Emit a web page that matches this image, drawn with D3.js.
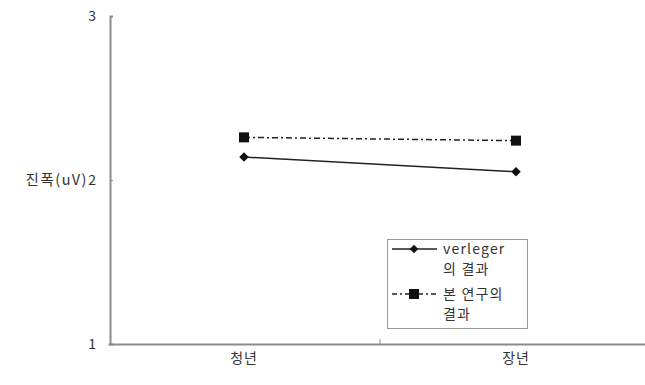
<!DOCTYPE html>
<html><head><meta charset="utf-8">
<script src="https://cdn.jsdelivr.net/npm/d3@7"></script>
<style>body{margin:0;background:#fff}svg{display:block}</style>
</head><body><svg id="c" width="645" height="385"></svg>
<script>
const categories = ["청년", "장년"];
const seriesNames = ["verleger\n의 결과", "본 연구의\n결과"];
const verleger = [2.14, 2.05];
const ours = [2.26, 2.24];
const yTicks = [1, 2, 3];
const yLabel = "진폭(uV)";

const svg = d3.select("#c");
const font = "'Noto Sans CJK KR','Noto Sans',sans-serif";
const x = d3.scaleBand().domain(categories).range([108, 652]);
const y = d3.scaleLinear().domain([1, 3]).range([344, 16]);
const axisColor = "#8a8a8a";

// y axis
const ya = svg.append("g").attr("transform", "translate(110,0)")
  .call(d3.axisLeft(y).tickValues(yTicks).tickSize(-3).tickPadding(14).tickFormat(d3.format("d")));
ya.select(".domain").attr("stroke", axisColor).attr("stroke-width", 2);
ya.selectAll(".tick line").attr("stroke", axisColor);
ya.selectAll("text").attr("font-family", font).attr("font-size", 14).attr("fill", "#333");
svg.append("text").attr("x", 88).attr("y", y(2)).attr("dy", "0.35em")
  .attr("text-anchor", "end").attr("font-family", font).attr("font-size", 14.5)
  .attr("letter-spacing", 1.5).attr("fill", "#333").text(yLabel);

// x axis
const xa = svg.append("g").attr("transform", "translate(0,344)")
  .call(d3.axisBottom(x).tickSize(0).tickPadding(9));
xa.select(".domain").attr("stroke", axisColor).attr("stroke-width", 2);
xa.selectAll("text").attr("font-family", font).attr("font-size", 14).attr("letter-spacing", 1).attr("fill", "#333");
// inner boundary ticks
svg.append("g").selectAll("line").data(categories.slice(1)).join("line")
  .attr("x1", d => x(d)).attr("x2", d => x(d)).attr("y1", 339).attr("y2", 344)
  .attr("stroke", axisColor);

const cx = d => x(d) + x.bandwidth() / 2;
const line = d3.line().x(d => cx(d.c)).y(d => y(d.v));
const s1 = categories.map((c, i) => ({c, v: verleger[i]}));
const s2 = categories.map((c, i) => ({c, v: ours[i]}));

svg.append("path").datum(s1).attr("d", line).attr("fill", "none").attr("stroke", "#222").attr("stroke-width", 1.5);
svg.append("path").datum(s2).attr("d", line).attr("fill", "none").attr("stroke", "#222").attr("stroke-width", 1.5)
  .attr("stroke-dasharray", "6,3,2,3");

svg.append("g").selectAll("path").data(s1).join("path")
  .attr("d", d3.symbol().type(d3.symbolSquare).size(45)).attr("fill", "#111")
  .attr("transform", d => `translate(${cx(d.c)},${y(d.v)}) rotate(45)`);
svg.append("g").selectAll("rect").data(s2).join("rect")
  .attr("x", d => cx(d.c) - 5).attr("y", d => y(d.v) - 5).attr("width", 10).attr("height", 10).attr("fill", "#111");

// legend
const lg = svg.append("g");
lg.append("rect").attr("x", 387.5).attr("y", 239.5).attr("width", 140).attr("height", 89)
  .attr("fill", "#fff").attr("stroke", "#999");
const items = [{name: seriesNames[0], y: 249, dash: null, sym: "d"}, {name: seriesNames[1], y: 294, dash: "5,3,2,3", sym: "s"}];
items.forEach(it => {
  lg.append("line").attr("x1", 392).attr("x2", 437).attr("y1", it.y).attr("y2", it.y)
    .attr("stroke", "#222").attr("stroke-width", 1.5).attr("stroke-dasharray", it.dash);
  if (it.sym === "d") {
    lg.append("path").attr("d", d3.symbol().type(d3.symbolSquare).size(36)).attr("fill", "#111")
      .attr("transform", `translate(414,${it.y}) rotate(45)`);
  } else {
    lg.append("rect").attr("x", 409).attr("y", it.y - 5).attr("width", 10).attr("height", 10).attr("fill", "#111");
  }
  const t = lg.append("text").attr("x", 443).attr("y", it.y)
    .attr("font-family", font).attr("font-size", 14).attr("letter-spacing", 1.2).attr("fill", "#333");
  it.name.split("\n").forEach((s, i) => t.append("tspan").attr("x", 443).attr("dy", i === 0 ? "0.35em" : "1.45em").text(s));
});
</script></body></html>
